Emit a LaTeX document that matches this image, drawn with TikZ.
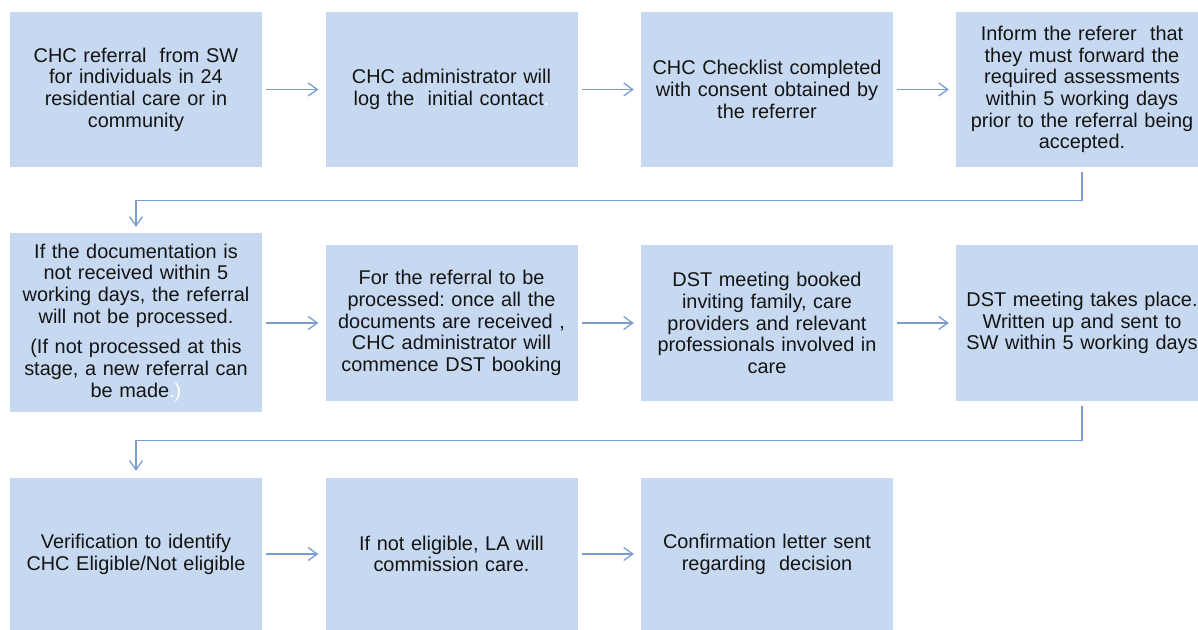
\documentclass[tikz,border=0pt]{standalone}
\usepackage{fontspec}
\setmainfont{Liberation Sans}
\usetikzlibrary{arrows.meta}
\frenchspacing
\definecolor{boxfill}{RGB}{198,217,240}
\definecolor{arrcol}{RGB}{122,157,207}
\definecolor{txt}{RGB}{20,20,20}
\tikzset{
  box/.style={fill=boxfill, draw=none, inner sep=0pt, minimum width=252pt, text width=250pt, align=center, text=txt, font=\fontsize{19.9}{21.7}\selectfont},
  arr/.style={draw=arrcol, line width=1.3pt, -{Straight Barb[length=9pt, width=13pt, line width=1.3pt]}, shorten <=4pt, shorten >=7pt},
}
\begin{document}
\begin{tikzpicture}[x=1pt, y=-1pt]
\useasboundingbox (0,0) rectangle (1198,629);
\clip (0,0) rectangle (1198,629);
% row 1
\node[box, minimum height=155pt] (b1) at (136,89.5) {CHC referral\ \ from SW\\for individuals in 24\\residential care or in\\community};
\node[box, minimum height=155pt] (b2) at (451.5,89.5) {CHC administrator will\\log the\ \ initial contact\textcolor{white}{.}};
\node[box, minimum height=155pt] (b3) at (767,89.5) {CHC Checklist completed\\with consent obtained by\\the referrer};
\node[box, minimum height=155pt] (b4) at (1082,89.5) {Inform the referer\ \ that\\they must forward the\\required assessments\\within 5 working days\\prior to the referral being\\accepted.};
% row 2
\node[box, minimum height=179pt] (b5) at (136,322.5) {If the documentation is\\not received within 5\\working days, the referral\\will not be processed.\\[9pt](If not processed at this\\stage, a new referral can\\be made\textcolor{white}{.)}};
\node[box, minimum height=156pt] (b6) at (451.5,323) {For the referral to be\\processed: once all the\\documents are received ,\\CHC administrator will\\commence DST booking};
\node[box, minimum height=156pt] (b7) at (767,323) {DST meeting booked\\inviting family, care\\providers and relevant\\professionals involved in\\care};
\node[box, minimum height=156pt] (b8) at (1082,323) {DST meeting takes place.\\Written up and sent to\\SW within 5 working days};
% row 3
\node[box, minimum height=152pt] (b9) at (136,554) {Verification to identify\\CHC Eligible/Not eligible};
\node[box, minimum height=152pt] (b10) at (451.5,554) {If not eligible, LA will\\commission care.};
\node[box, minimum height=152pt] (b11) at (767,554) {Confirmation letter sent\\regarding\ \ decision};
% connectors
\draw[arr] (b1) -- (b2);
\draw[arr] (b2) -- (b3);
\draw[arr] (b3) -- (b4);
\draw[arr, shorten <=5pt, shorten >=6pt] (b4.south) -- ++(0,33) -| (b5.north);
\draw[arr] (b5.east |- b6.east) -- (b6.west);
\draw[arr] (b6) -- (b7);
\draw[arr] (b7) -- (b8);
\draw[arr, shorten <=5pt, shorten >=7pt] (b8.south) -- ++(0,39) -| (b9.north);
\draw[arr] (b9) -- (b10);
\draw[arr] (b10) -- (b11);
\end{tikzpicture}
\end{document}
